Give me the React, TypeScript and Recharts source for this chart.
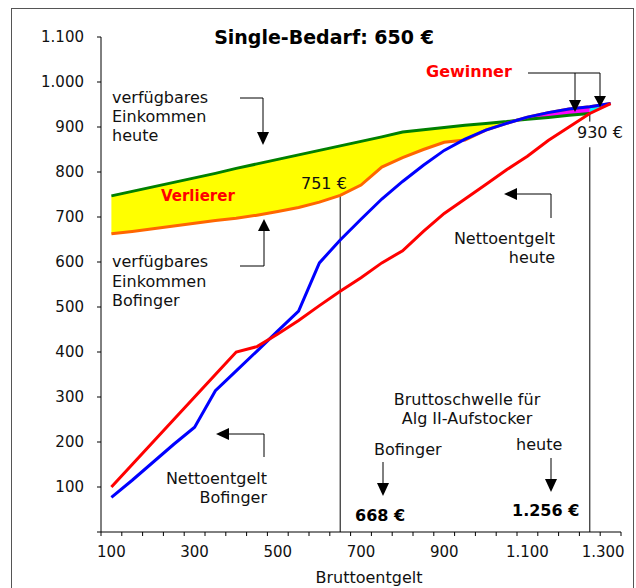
import {
  ComposedChart,
  Line,
  Area,
  XAxis,
  YAxis,
  ReferenceLine,
} from "recharts";

// Bruttoentgelt (x) und die vier Kurven
const brutto = [
  100, 150, 200, 250, 300, 350, 400, 450, 500, 550, 600, 650, 700, 750, 800,
  850, 900, 950, 1000, 1050, 1075, 1100, 1150, 1200, 1250, 1300,
];
const nettoHeute = [
  100, 150, 200, 250, 300, 350, 400, 412, 440, 470, 503, 535, 565, 598, 625,
  668, 708, 740, 772, 805, 820, 835, 870, 900, 930, 952,
];
const nettoBofinger = [
  77, 115, 155, 195, 233, 314, 358, 402, 447, 491, 598, 649, 695, 740, 779,
  815, 848, 873, 893, 908, 915, 922, 932, 940, 945, 952,
];
const verfuegbarHeute = [
  747, 757, 767, 777, 787, 797, 808, 818, 828, 838, 848, 858, 868, 878, 889,
  894, 899, 904, 908, 912, 915, 917, 921, 926, 930, null,
];
const verfuegbarBofinger = [
  663, 668, 674, 680, 686, 692, 697, 704, 712, 721, 733, 748, 771, 811, 832,
  850, 866, 871, 893, 908, 915, 922, 932, 940, 945, 952,
];

const xTicks = [75, 100, 125, 150, 175, 200, 225, 250, 275, 300, 325, 350, 375, 400, 425, 450, 475, 500, 525, 550, 575, 600, 625, 650, 675, 700, 725, 750, 775, 800, 825, 850, 875, 900, 925, 950, 975, 1000, 1025, 1050, 1075, 1100, 1125, 1150, 1175, 1200, 1225, 1250, 1275, 1300, 1325];
const yTicks = [0, 100, 200, 300, 400, 500, 600, 700, 800, 900, 1000, 1100];

const crossing = 1075; // blau schneidet grün
const schwelleHeute = 1250;

const data = brutto.map((x, i) => {
  const r = nettoHeute[i];
  const b = nettoBofinger[i];
  const g = verfuegbarHeute[i];
  const o = verfuegbarBofinger[i];
  return {
    x,
    red: r,
    blue: b,
    green: g,
    orange: o,
    yellow: x <= crossing && g != null ? [Math.max(o, b), g] : null,
    magenta: x >= crossing && x <= schwelleHeute && g != null ? [g, b] : null,
    cyan: x >= schwelleHeute ? [r, b] : null,
  };
});

const font = "'DejaVu Sans', Verdana, sans-serif";

const fmt = (v: number) => {
  if (v === 0) return "";
  if (v >= 1000) return `${Math.floor(v / 1000)}.${String(v % 1000).padStart(3, "0")}`;
  return String(v);
};

function XTick(props: any) {
  const { x, y, payload } = props;
  const v = payload.value;
  if ((v - 75) % 50 === 0) {
    return <line x1={x} x2={x} y1={y} y2={y + 4} stroke="#000" />;
  }
  if ((v - 100) % 200 === 0) {
    const last = v === 1300;
    return (
      <text
        x={last ? x + 14 : x}
        y={y + 25}
        textAnchor={last ? "end" : "middle"}
        fontSize={15}
        fontFamily={font}
        fill="#111"
      >
        {fmt(v)}
      </text>
    );
  }
  return <g />;
}

const txt = { fontSize: 16, fontFamily: font, fill: "#111" };
const bold = { fontSize: 16, fontFamily: font, fontWeight: "bold" };

function Annotations() {
  return (
    <svg
      width={636}
      height={588}
      style={{ position: "absolute", left: 0, top: 0, pointerEvents: "none" }}
    >
      <rect x={11.5} y={8.5} width={622} height={640} fill="none" stroke="#555" />
      <text x={324} y={44} textAnchor="middle" fontSize={19} fontWeight="bold" fontFamily={font} fill="#000">
        Single-Bedarf: 650 €
      </text>

      <text {...txt} x={112} y={103}>verfügbares</text>
      <text {...txt} x={112} y={122}>Einkommen</text>
      <text {...txt} x={112} y={141}>heute</text>
      <polyline points="240,98 263,98 263,132" fill="none" stroke="#000" />
      <polygon points="257,132 269,132 263,145" fill="#000" />

      <text x={161} y={201} fontSize={15} fontWeight="bold" fontFamily={font} fill="#ff0000">
        Verlierer
      </text>
      <text {...txt} x={301} y={189}>751 €</text>

      <text {...txt} x={112} y={267}>verfügbares</text>
      <text {...txt} x={112} y={287}>Einkommen</text>
      <text {...txt} x={112} y={306}>Bofinger</text>
      <polyline points="240,266 264,266 264,231" fill="none" stroke="#000" />
      <polygon points="258,231 270,231 264,219" fill="#000" />

      <text {...txt} x={267} y={484} textAnchor="end">Nettoentgelt</text>
      <text {...txt} x={267} y={503} textAnchor="end">Bofinger</text>
      <polyline points="264,457 264,434 229,434" fill="none" stroke="#000" />
      <polygon points="229,428 229,440 216,434" fill="#000" />

      <text {...txt} x={555} y={244} textAnchor="end">Nettoentgelt</text>
      <text {...txt} x={555} y={263} textAnchor="end">heute</text>
      <polyline points="551,218 551,194 517,194" fill="none" stroke="#000" />
      <polygon points="517,188 517,200 504,194" fill="#000" />

      <text {...bold} x={426} y={77} fill="#ff0000">
        Gewinner
      </text>
      <polyline points="528,73 600,73 600,96" fill="none" stroke="#000" />
      <line x1={575} y1={73} x2={575} y2={100} stroke="#000" />
      <polygon points="569,100 581,100 575,112" fill="#000" />
      <polygon points="594,96 606,96 600,107" fill="#000" />
      <text {...txt} x={577} y={138}>930 €</text>

      <text {...txt} x={467} y={405} textAnchor="middle">Bruttoschwelle für</text>
      <text {...txt} x={467} y={424} textAnchor="middle">Alg II-Aufstocker</text>

      <text {...txt} x={374} y={455}>Bofinger</text>
      <line x1={383} y1={462} x2={383} y2={483} stroke="#000" />
      <polygon points="377,483 389,483 383,496" fill="#000" />
      <text {...bold} x={355} y={521} fill="#000">
        668 €
      </text>

      <text {...txt} x={516} y={450}>heute</text>
      <line x1={551} y1={458} x2={551} y2={479} stroke="#000" />
      <polygon points="545,479 557,479 551,492" fill="#000" />
      <text {...bold} x={512} y={516} fill="#000">
        1.256 €
      </text>

      <text {...txt} x={369} y={583} textAnchor="middle">Bruttoentgelt</text>
    </svg>
  );
}

export default function App() {
  return (
    <div style={{ position: "absolute", left: 0, top: 0, width: 636, height: 588, background: "#fff" }}>
      <ComposedChart
        width={636}
        height={588}
        data={data}
        margin={{ top: 37, right: 15, left: 41, bottom: 16 }}
      >
        <XAxis
          dataKey="x"
          type="number"
          domain={[75, 1325]}
          ticks={xTicks}
          interval={0}
          tickLine={false}
          tickSize={0}
          tickMargin={0}
          height={40}
          axisLine={{ stroke: "#000" }}
          tick={<XTick />}
        />
        <YAxis
          type="number"
          domain={[0, 1100]}
          ticks={yTicks}
          interval={0}
          width={60}
          tickSize={4}
          tickMargin={13}
          tickFormatter={fmt}
          axisLine={{ stroke: "#000" }}
          tickLine={{ stroke: "#000" }}
          tick={{ fill: "#111", fontSize: 15, fontFamily: font }}
        />
        <Area type="linear" dataKey="yellow" fill="#ffff00" fillOpacity={1} stroke="none" isAnimationActive={false} />
        <Area type="linear" dataKey="magenta" fill="#ff00ff" fillOpacity={1} stroke="none" isAnimationActive={false} />
        <Area type="linear" dataKey="cyan" fill="#00ffff" fillOpacity={1} stroke="none" isAnimationActive={false} />
        <ReferenceLine segment={[{ x: 650, y: 748 }, { x: 650, y: 0 }]} stroke="#000" strokeWidth={1} />
        <ReferenceLine segment={[{ x: schwelleHeute, y: 855 }, { x: schwelleHeute, y: 0 }]} stroke="#000" strokeWidth={1} />
        <ReferenceLine segment={[{ x: schwelleHeute, y: 930 }, { x: schwelleHeute, y: 912 }]} stroke="#000" strokeWidth={1} />
        <Line type="linear" dataKey="green" stroke="#008000" strokeWidth={3} dot={false} isAnimationActive={false} />
        <Line type="linear" dataKey="orange" stroke="#ff6600" strokeWidth={3} dot={false} isAnimationActive={false} />
        <Line type="linear" dataKey="blue" stroke="#0000ff" strokeWidth={3} dot={false} isAnimationActive={false} />
        <Line type="linear" dataKey="red" stroke="#ff0000" strokeWidth={3} dot={false} isAnimationActive={false} />
      </ComposedChart>
      <Annotations />
    </div>
  );
}
